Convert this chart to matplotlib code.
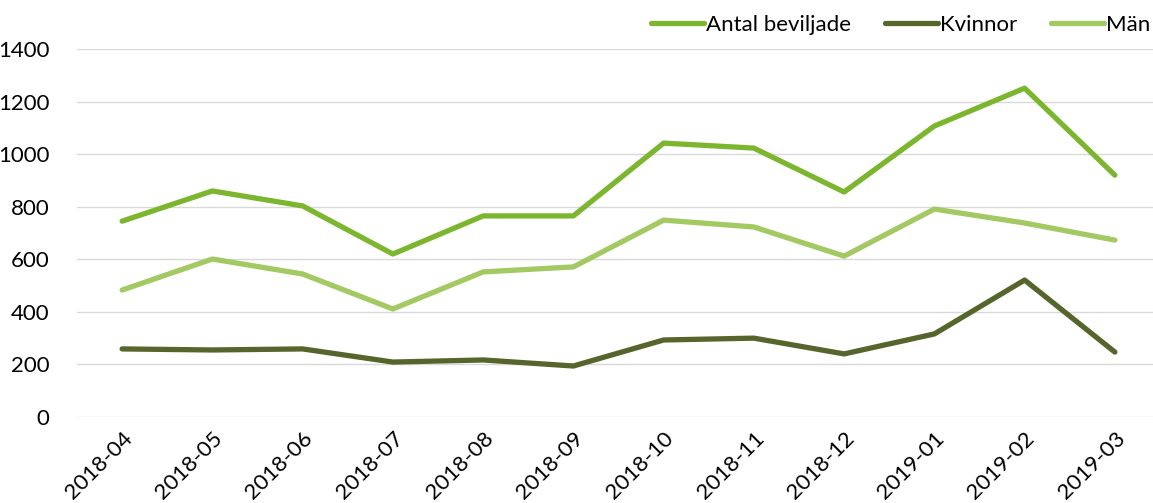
import matplotlib
matplotlib.use("Agg")
import matplotlib.pyplot as plt

plt.rcParams['font.family'] = ['Lato', 'DejaVu Sans']

months = ['2018-04', '2018-05', '2018-06', '2018-07', '2018-08', '2018-09',
          '2018-10', '2018-11', '2018-12', '2019-01', '2019-02', '2019-03']
antal = [745, 860, 803, 620, 765, 765, 1042, 1023, 856, 1107, 1251, 920]
kvinnor = [259, 255, 259, 209, 217, 194, 293, 300, 240, 316, 521, 247]
man = [483, 601, 544, 411, 552, 571, 749, 723, 612, 791, 738, 673]

fig = plt.figure(figsize=(11.53, 5.03), dpi=100)
ax = fig.add_axes([77/1153, 86/503, 1083/1153, 368/503])

x = range(len(months))
ax.plot(x, antal, color='#7cb62f', lw=3.8, label='Antal beviljade', solid_capstyle='round')
ax.plot(x, kvinnor, color='#56652b', lw=3.8, label='Kvinnor', solid_capstyle='round')
ax.plot(x, man, color='#a3c963', lw=3.8, label='Män', solid_capstyle='round')

ax.set_xlim(-0.5, len(months) - 0.5)
ax.set_ylim(0, 1400)
ax.set_yticks(range(0, 1401, 200))
ax.set_xticks(list(x))
ax.set_xticklabels(months, rotation=45, ha='right', rotation_mode='anchor')
ax.grid(axis='y', color='#d9d9d9', lw=1)
ax.set_axisbelow(True)
for s in ax.spines.values():
    s.set_visible(False)
ax.tick_params(length=0, labelsize=16, colors='black')
ax.tick_params(axis='y', pad=20)
ax.tick_params(axis='x', pad=8)

ax.legend(loc='center right', bbox_to_anchor=(0.998, 1 - 25/503), bbox_transform=fig.transFigure,
          ncol=3, frameon=False, fontsize=16, handlelength=2.4, handletextpad=0.1,
          columnspacing=1.5, borderaxespad=0, borderpad=0)

fig.savefig('out.png', dpi=100)
